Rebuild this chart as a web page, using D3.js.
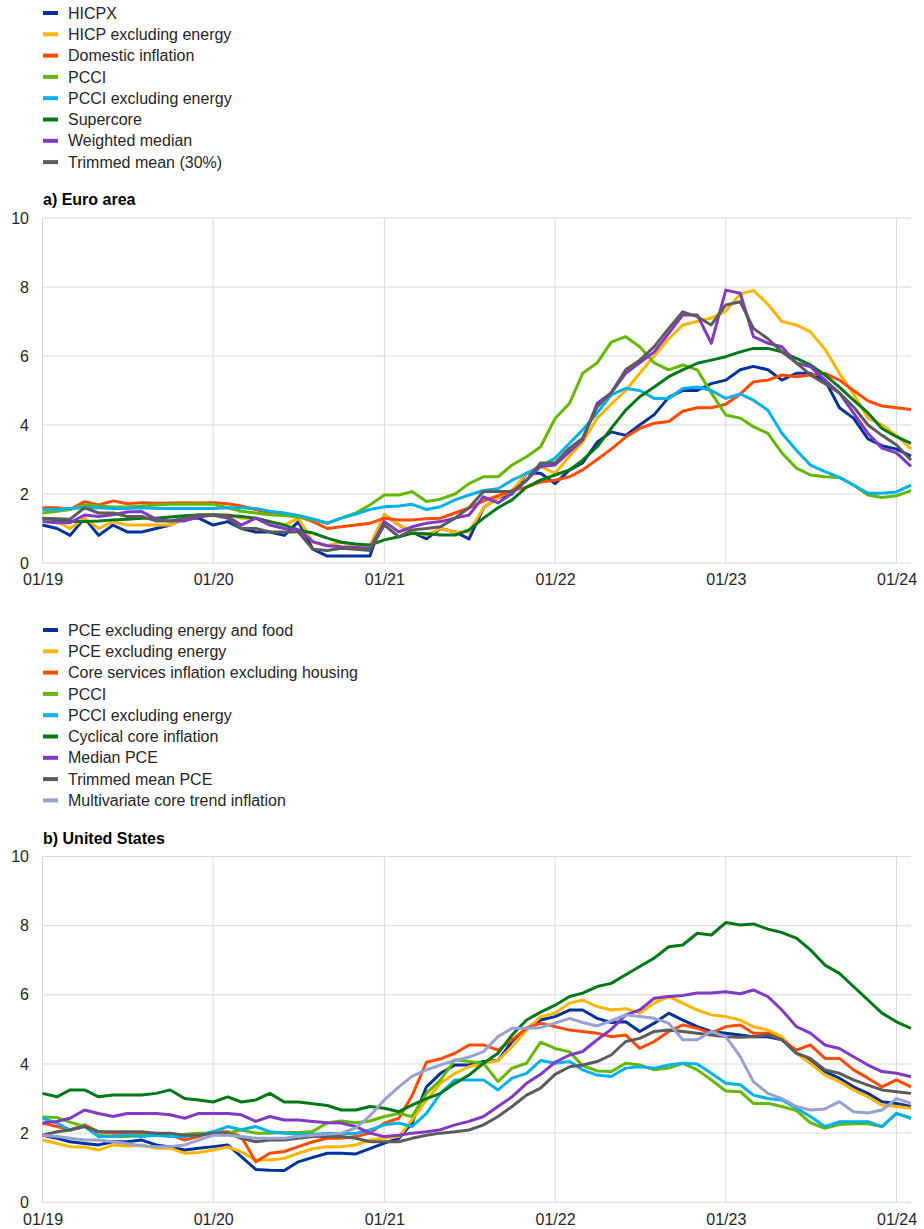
<!DOCTYPE html>
<html>
<head>
<meta charset="utf-8">
<script src="https://cdnjs.cloudflare.com/ajax/libs/d3/7.8.5/d3.min.js"></script>
<style>
  body { margin: 0; background: #fff; }
  svg { display: block; }
  text { font-family: "Liberation Sans", Arial, sans-serif; fill: #262626; }
</style>
</head>
<body>
<div id="chart"></div>
<script>
var svgWidth = 924;
var svgHeight = 1229;

// monthly observations, 01/19 to 02/24
var firstMonth = new Date(2019, 0, 1);
var lastMonth = new Date(2024, 1, 1);
var months = d3.timeMonth.range(firstMonth, d3.timeMonth.offset(lastMonth, 1));

var yTicks = [0, 2, 4, 6, 8, 10];
var xTicks = ["01/19", "01/20", "01/21", "01/22", "01/23", "01/24"];

// a) euro area
var euHicpx = [1.1, 1.0, 0.8, 1.3, 0.8, 1.1, 0.9, 0.9, 1.0, 1.1, 1.3, 1.3,
  1.1, 1.2, 1.0, 0.9, 0.9, 0.8, 1.2, 0.4, 0.2, 0.2, 0.2, 0.2,
  1.4, 1.1, 0.9, 0.7, 1.0, 0.9, 0.7, 1.6, 1.9, 2.0, 2.6, 2.6,
  2.3, 2.7, 2.9, 3.5, 3.8, 3.7, 4.0, 4.3, 4.8, 5.0, 5.0, 5.2,
  5.3, 5.6, 5.7, 5.6, 5.3, 5.5, 5.5, 5.3, 4.5, 4.2, 3.6, 3.4,
  3.3, 3.1];
var euHicpExEnergy = [1.3, 1.2, 1.0, 1.3, 1.0, 1.2, 1.1, 1.1, 1.1, 1.1, 1.3, 1.4,
  1.4, 1.4, 1.3, 1.3, 1.2, 1.1, 1.3, 0.6, 0.5, 0.6, 0.5, 0.5,
  1.4, 1.1, 0.9, 0.8, 1.0, 0.9, 0.9, 1.6, 1.9, 2.1, 2.6, 2.8,
  2.6, 3.1, 3.5, 4.2, 4.6, 5.0, 5.5, 6.0, 6.5, 6.9, 7.0, 7.1,
  7.3, 7.8, 7.9, 7.5, 7.0, 6.9, 6.7, 6.2, 5.5, 4.9, 4.2, 4.0,
  3.7, 3.3];
var euDomestic = [1.6, 1.6, 1.55, 1.78, 1.68, 1.8, 1.72, 1.75, 1.73, 1.74, 1.75, 1.74,
  1.75, 1.72, 1.65, 1.55, 1.45, 1.4, 1.35, 1.2, 1.0, 1.05, 1.1, 1.15,
  1.3, 1.25, 1.25, 1.28, 1.3, 1.45, 1.6, 1.8, 1.95, 2.1, 2.2, 2.35,
  2.4, 2.5, 2.7, 3.0, 3.3, 3.65, 3.9, 4.05, 4.1, 4.4, 4.5, 4.5,
  4.6, 4.9, 5.25, 5.3, 5.45, 5.4, 5.45, 5.5, 5.3, 5.0, 4.7, 4.55,
  4.5, 4.45];
var euPcci = [1.45, 1.5, 1.55, 1.68, 1.65, 1.62, 1.62, 1.65, 1.68, 1.7, 1.7, 1.7,
  1.7, 1.6, 1.5, 1.45, 1.4, 1.38, 1.33, 1.25, 1.15, 1.3, 1.45, 1.68,
  1.97, 1.97, 2.07, 1.78, 1.85, 2.0, 2.3, 2.5, 2.5, 2.84, 3.08, 3.37,
  4.19, 4.63, 5.5, 5.8, 6.4, 6.56, 6.27, 5.8, 5.6, 5.74, 5.6, 4.93,
  4.29, 4.2, 3.95, 3.76, 3.19, 2.75, 2.55, 2.5, 2.48, 2.26, 1.97, 1.9,
  1.95, 2.1];
var euPcciExEnergy = [1.55, 1.55, 1.58, 1.6, 1.6, 1.58, 1.58, 1.6, 1.58, 1.58, 1.58, 1.58,
  1.58, 1.6, 1.6, 1.58, 1.5, 1.45, 1.38, 1.28, 1.16, 1.3, 1.42, 1.55,
  1.63, 1.65, 1.7, 1.55, 1.63, 1.83, 1.97, 2.1, 2.15, 2.4, 2.6, 2.8,
  3.04, 3.47, 3.86, 4.35, 4.87, 5.06, 5.0, 4.77, 4.77, 5.06, 5.1, 5.0,
  4.77, 4.9, 4.72, 4.43, 3.76, 3.27, 2.84, 2.65, 2.48, 2.26, 2.02, 2.02,
  2.06, 2.26];
var euSupercore = [1.3, 1.25, 1.2, 1.2, 1.22, 1.25, 1.27, 1.3, 1.3, 1.33, 1.37, 1.39,
  1.4, 1.38, 1.35, 1.3, 1.2, 1.1, 0.96, 0.87, 0.72, 0.6, 0.55, 0.52,
  0.67, 0.76, 0.86, 0.85, 0.81, 0.81, 0.96, 1.3, 1.6, 1.83, 2.2, 2.4,
  2.55, 2.7, 2.98, 3.37, 3.9, 4.43, 4.82, 5.1, 5.4, 5.6, 5.79, 5.88,
  5.98, 6.12, 6.22, 6.22, 6.12, 5.93, 5.74, 5.45, 5.1, 4.72, 4.35, 3.9,
  3.66, 3.47];
var euWeightedMedian = [1.2, 1.17, 1.17, 1.39, 1.35, 1.4, 1.48, 1.49, 1.27, 1.22, 1.22, 1.33,
  1.39, 1.35, 1.1, 1.3, 1.1, 1.0, 0.97, 0.62, 0.5, 0.47, 0.45, 0.42,
  1.2, 0.9, 1.05, 1.15, 1.2, 1.3, 1.39, 1.92, 1.74, 2.02, 2.4, 2.8,
  2.84, 3.23, 3.57, 4.63, 4.93, 5.5, 5.8, 6.12, 6.66, 7.19, 7.19, 6.37,
  7.91, 7.82, 6.56, 6.37, 6.27, 5.8, 5.69, 5.3, 4.93, 4.35, 3.76, 3.33,
  3.19, 2.8];
var euTrimmedMean = [1.3, 1.28, 1.27, 1.6, 1.45, 1.45, 1.35, 1.35, 1.22, 1.22, 1.3, 1.39,
  1.38, 1.3, 1.0, 1.0, 0.9, 0.9, 0.9, 0.4, 0.36, 0.43, 0.4, 0.36,
  1.1, 0.76, 0.96, 1.0, 1.05, 1.3, 1.6, 2.07, 2.07, 2.07, 2.4, 2.9,
  2.9, 3.33, 3.62, 4.53, 4.93, 5.6, 5.88, 6.27, 6.8, 7.28, 7.14, 6.9,
  7.48, 7.57, 6.8, 6.5, 6.12, 5.8, 5.45, 5.2, 4.93, 4.53, 4.0, 3.7,
  3.42, 2.98];

// b) united states
var usPceCore = [1.94, 1.85, 1.75, 1.7, 1.66, 1.75, 1.75, 1.8, 1.66, 1.6, 1.51, 1.56,
  1.61, 1.66, 1.32, 0.95, 0.93, 0.92, 1.17, 1.3, 1.42, 1.42, 1.4, 1.55,
  1.71, 1.85, 2.29, 3.34, 3.73, 3.97, 3.97, 4.07, 4.1, 4.65, 5.03, 5.27,
  5.37, 5.56, 5.56, 5.32, 5.2, 5.22, 4.94, 5.18, 5.47, 5.27, 5.08, 4.94,
  4.89, 4.84, 4.79, 4.79, 4.7, 4.31, 4.12, 3.78, 3.59, 3.34, 3.15, 2.91,
  2.86, 2.77];
var usPceExEnergy = [1.8, 1.7, 1.61, 1.6, 1.51, 1.66, 1.63, 1.66, 1.56, 1.56, 1.42, 1.44,
  1.51, 1.6, 1.46, 1.22, 1.22, 1.27, 1.42, 1.55, 1.61, 1.61, 1.66, 1.8,
  1.85, 1.9, 2.38, 2.96, 3.44, 3.73, 3.92, 4.02, 4.1, 4.5, 4.98, 5.37,
  5.47, 5.76, 5.85, 5.66, 5.56, 5.6, 5.47, 5.76, 5.95, 5.76, 5.56, 5.42,
  5.37, 5.27, 5.08, 4.98, 4.79, 4.31, 4.02, 3.68, 3.49, 3.25, 3.05, 2.81,
  2.77, 2.72];
var usCoreServices = [2.29, 2.19, 2.09, 2.24, 2.04, 2.0, 2.0, 2.0, 1.95, 1.95, 1.8, 1.9,
  2.04, 2.04, 1.9, 1.17, 1.42, 1.47, 1.61, 1.75, 1.85, 1.85, 1.9, 2.0,
  2.29, 2.43, 3.08, 4.05, 4.15, 4.31, 4.55, 4.55, 4.4, 4.7, 5.03, 5.18,
  5.08, 4.98, 4.94, 4.89, 4.79, 4.84, 4.45, 4.65, 4.94, 5.13, 5.03, 4.89,
  5.08, 5.13, 4.89, 4.89, 4.7, 4.4, 4.55, 4.16, 4.16, 3.83, 3.59, 3.34,
  3.54, 3.34];
var usPcci = [2.47, 2.45, 2.32, 2.19, 1.94, 1.9, 1.9, 1.94, 1.94, 1.95, 1.97, 2.0,
  2.0, 2.0, 2.09, 2.0, 2.0, 2.02, 2.02, 2.05, 2.3, 2.35, 2.3, 2.35,
  2.48, 2.57, 2.48, 3.15, 3.54, 4.12, 4.07, 4.02, 3.49, 3.88, 4.02, 4.63,
  4.45, 4.35, 3.95, 3.8, 3.78, 4.02, 3.97, 3.83, 3.88, 4.02, 3.83, 3.54,
  3.22, 3.2, 2.86, 2.86, 2.77, 2.65, 2.3, 2.14, 2.25, 2.27, 2.27, 2.19,
  2.57, 2.43];
var usPcciExEnergy = [2.43, 2.29, 2.09, 2.19, 1.9, 1.9, 1.94, 1.9, 1.94, 1.9, 1.9, 1.94,
  2.04, 2.19, 2.1, 2.19, 2.04, 2.0, 1.97, 1.97, 1.99, 1.99, 1.99, 2.09,
  2.24, 2.29, 2.19, 2.57, 3.15, 3.54, 3.54, 3.54, 3.25, 3.59, 3.73, 4.1,
  4.02, 4.07, 3.83, 3.68, 3.64, 3.88, 3.92, 3.88, 3.97, 4.02, 4.0, 3.73,
  3.44, 3.4, 3.1, 3.0, 2.96, 2.72, 2.48, 2.19, 2.33, 2.33, 2.33, 2.19,
  2.57, 2.43];
var usCyclicalCore = [3.15, 3.05, 3.25, 3.25, 3.05, 3.1, 3.1, 3.1, 3.15, 3.25, 3.0, 2.96,
  2.9, 3.05, 2.9, 2.96, 3.15, 2.9, 2.9, 2.85, 2.8, 2.67, 2.67, 2.77,
  2.72, 2.62, 2.81, 3.0, 3.15, 3.44, 3.68, 4.02, 4.31, 4.84, 5.27, 5.5,
  5.7, 5.95, 6.05, 6.24, 6.33, 6.58, 6.82, 7.06, 7.39, 7.44, 7.78, 7.73,
  8.09, 8.02, 8.05, 7.9, 7.8, 7.64, 7.3, 6.86, 6.62, 6.24, 5.85, 5.47,
  5.22, 5.03];
var usMedianPce = [2.29, 2.34, 2.43, 2.67, 2.57, 2.48, 2.57, 2.57, 2.57, 2.53, 2.43, 2.57,
  2.57, 2.57, 2.53, 2.34, 2.48, 2.38, 2.38, 2.34, 2.3, 2.29, 2.19, 2.0,
  1.9, 1.94, 2.0, 2.04, 2.1, 2.24, 2.34, 2.48, 2.77, 3.05, 3.44, 3.7,
  4.05, 4.26, 4.36, 4.7, 5.0, 5.42, 5.56, 5.9, 5.95, 5.98, 6.05, 6.05,
  6.09, 6.03, 6.14, 5.95, 5.56, 5.08, 4.89, 4.55, 4.45, 4.21, 3.97, 3.78,
  3.73, 3.63];
var usTrimmedMean = [1.94, 2.04, 2.09, 2.19, 2.04, 2.04, 2.04, 2.04, 2.0, 2.0, 1.94, 1.94,
  2.0, 2.0, 1.85, 1.75, 1.8, 1.8, 1.85, 1.9, 1.9, 1.9, 1.85, 1.75,
  1.75, 1.75, 1.85, 1.94, 2.0, 2.04, 2.09, 2.24, 2.48, 2.77, 3.1, 3.3,
  3.7, 3.92, 3.97, 4.07, 4.26, 4.65, 4.74, 4.94, 4.98, 4.94, 4.89, 4.84,
  4.79, 4.77, 4.79, 4.84, 4.7, 4.31, 4.16, 3.83, 3.73, 3.54, 3.39, 3.25,
  3.2, 3.15];
var usMultivariate = [1.94, 1.9, 1.85, 1.8, 1.8, 1.75, 1.7, 1.63, 1.61, 1.61, 1.66, 1.8,
  1.94, 1.94, 1.9, 1.85, 1.85, 1.85, 1.9, 1.94, 1.97, 2.0, 2.15, 2.5,
  2.96, 3.34, 3.64, 3.83, 3.97, 4.1, 4.2, 4.36, 4.79, 5.03, 5.03, 5.05,
  5.18, 5.32, 5.2, 5.1, 5.25, 5.42, 5.37, 5.32, 5.18, 4.7, 4.7, 4.94,
  4.79, 4.21, 3.49, 3.15, 3.0, 2.77, 2.67, 2.7, 2.91, 2.62, 2.58, 2.67,
  3.0, 2.86];

var euSeries = [
  { name: "HICPX", color: "#003299", values: euHicpx },
  { name: "HICP excluding energy", color: "#ffb400", values: euHicpExEnergy },
  { name: "Domestic inflation", color: "#ff4b00", values: euDomestic },
  { name: "PCCI", color: "#65b800", values: euPcci },
  { name: "PCCI excluding energy", color: "#00b1ea", values: euPcciExEnergy },
  { name: "Supercore", color: "#007816", values: euSupercore },
  { name: "Weighted median", color: "#8139c6", values: euWeightedMedian },
  { name: "Trimmed mean (30%)", color: "#5c5c5c", values: euTrimmedMean }
];

var usSeries = [
  { name: "PCE excluding energy and food", color: "#003299", values: usPceCore },
  { name: "PCE excluding energy", color: "#ffb400", values: usPceExEnergy },
  { name: "Core services inflation excluding housing", color: "#ff4b00", values: usCoreServices },
  { name: "PCCI", color: "#65b800", values: usPcci },
  { name: "PCCI excluding energy", color: "#00b1ea", values: usPcciExEnergy },
  { name: "Cyclical core inflation", color: "#007816", values: usCyclicalCore },
  { name: "Median PCE", color: "#8139c6", values: usMedianPce },
  { name: "Trimmed mean PCE", color: "#5c5c5c", values: usTrimmedMean },
  { name: "Multivariate core trend inflation", color: "#98a1d0", values: usMultivariate }
];

var svg = d3
  .select("#chart")
  .append("svg")
  .attr("width", svgWidth)
  .attr("height", svgHeight);

var xScale = d3.scaleTime()
  .domain([firstMonth, lastMonth])
  .range([42.5, 911]);

var parseTick = d3.timeParse("%m/%y");

// one panel: legend, title, grid, lines
function drawPanel(series, title, legendTop, plotTop, plotBottom) {
  var yScale = d3.scaleLinear()
    .domain([0, 10])
    .range([plotBottom, plotTop]);

  // legend
  var legend = svg.append("g")
    .attr("transform", `translate(43, ${legendTop})`);

  var item = legend.selectAll("g")
    .data(series)
    .enter()
    .append("g")
    .attr("transform", (d, i) => `translate(0, ${i * 21.3})`);

  item.append("rect")
    .attr("x", 0)
    .attr("y", -2)
    .attr("width", 15)
    .attr("height", 4)
    .attr("fill", d => d.color);

  item.append("text")
    .attr("x", 25)
    .attr("dy", "0.35em")
    .style("font-size", "16px")
    .text(d => d.name);

  // panel title
  svg.append("text")
    .attr("x", 43)
    .attr("y", plotTop - 13)
    .style("font-size", "16px")
    .style("font-weight", "bold")
    .style("fill", "#000")
    .text(title);

  var grid = svg.append("g");

  // horizontal grid lines
  grid.selectAll("line.h")
    .data(yTicks)
    .enter()
    .append("line")
    .attr("class", "h")
    .attr("x1", xScale.range()[0])
    .attr("x2", xScale.range()[1])
    .attr("y1", d => yScale(d))
    .attr("y2", d => yScale(d))
    .attr("stroke", "#d9d9d9")
    .attr("stroke-width", 1);

  // vertical grid lines at each January
  grid.selectAll("line.v")
    .data(xTicks)
    .enter()
    .append("line")
    .attr("class", "v")
    .attr("x1", d => xScale(parseTick(d)))
    .attr("x2", d => xScale(parseTick(d)))
    .attr("y1", plotTop)
    .attr("y2", plotBottom)
    .attr("stroke", "#d9d9d9")
    .attr("stroke-width", 1);

  // y axis labels
  var leftAxis = d3.axisLeft(yScale)
    .tickValues(yTicks)
    .tickSize(0)
    .tickPadding(0);

  var yAxis = svg.append("g")
    .attr("transform", `translate(29, 0)`)
    .call(leftAxis);

  // x axis labels
  var bottomAxis = d3.axisBottom(xScale)
    .tickValues(xTicks.map(parseTick))
    .tickFormat(d3.timeFormat("%m/%y"))
    .tickSize(0)
    .tickPadding(0);

  var xAxis = svg.append("g")
    .attr("transform", `translate(0, ${plotBottom + 11})`)
    .call(bottomAxis);

  [yAxis, xAxis].forEach(function(axis) {
    axis.select(".domain").remove();
    axis.selectAll("text")
      .style("font-size", "16px")
      .style("font-family", "\"Liberation Sans\", Arial, sans-serif")
      .attr("fill", "#262626");
  });

  var line = d3.line()
    .x((d, i) => xScale(months[i]))
    .y(d => yScale(d));

  svg.append("g")
    .selectAll("path")
    .data(series)
    .enter()
    .append("path")
    .attr("d", d => line(d.values))
    .attr("fill", "none")
    .attr("stroke", d => d.color)
    .attr("stroke-width", 3)
    .attr("stroke-linejoin", "round");
}

drawPanel(euSeries, "a) Euro area", 13, 218, 563);
drawPanel(usSeries, "b) United States", 630, 856.5, 1202.3);
</script>
</body>
</html>
